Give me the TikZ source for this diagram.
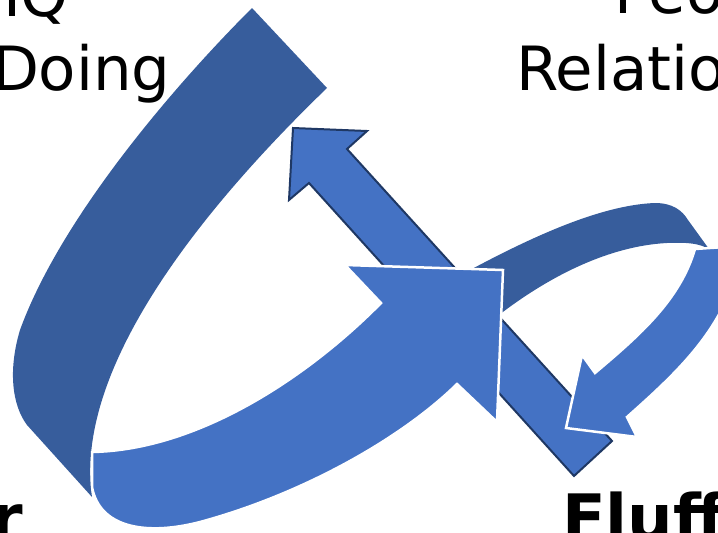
\documentclass[tikz,border=0pt]{standalone}
\usepackage{fontspec}
\setmainfont{DejaVu Sans}
\definecolor{bandDark}{RGB}{55,93,156}
\definecolor{bandLight}{RGB}{68,114,196}
\definecolor{navyEdge}{RGB}{31,56,100}
\tikzset{
  darkband/.style={fill=bandDark},
  lightarrow/.style={fill=bandLight, draw=white, line width=2.5pt, line join=miter},
  strarrow/.style={fill=bandLight, draw=navyEdge, line width=2pt, line join=miter},
  lbl/.style={inner sep=0pt, outer sep=0pt, anchor=base west, font=\fontsize{61}{61}\selectfont},
  blbl/.style={inner sep=0pt, outer sep=0pt, anchor=base west, font=\fontsize{64}{64}\selectfont\bfseries}
}
\begin{document}
\begin{tikzpicture}[x=1pt,y=-1pt]
\useasboundingbox (0,0) rectangle (718,533);
\clip (0,0) rectangle (718,533);
% big dark band
\fill[darkband] (252,8) .. controls (170,90) and (60,220) .. (20,330)
  .. controls (8,370) and (12,405) .. (27,425) -- (92,497)
  .. controls (75,380) and (180,230) .. (327,88) -- cycle;
% straight arrow
\draw[strarrow] (293,128) -- (367,131) -- (347,149) -- (612,441) -- (574,476)
  -- (309,183) -- (289,200) -- cycle;
% small loop, dark part
\fill[darkband] (470,270) .. controls (530,238) and (600,205) .. (655,203)
  .. controls (672,203) and (682,210) .. (688,220) -- (709,249)
  .. controls (700,244) and (690,242) .. (667,243)
  .. controls (610,246) and (550,275) .. (495,318) -- cycle;
% small loop, light arrow
\draw[lightarrow] (695,249) -- (740,246) -- (740,255)
  .. controls (728,325) and (680,370) .. (627,417) -- (637,437) -- (566,428)
  -- (582,355) -- (595,373) .. controls (640,335) and (680,300) .. (695,249) -- cycle;
% big light arrow
\draw[lightarrow] (92,452) .. controls (200,450) and (310,375) .. (381,303)
  -- (345,265) -- (503,270)
  -- (497,422) -- (457,384) .. controls (400,440) and (300,495) .. (200,522)
  .. controls (150,535) and (100,530) .. (92,487) -- cycle;
% texts
\node[lbl] (iq) at (3,16) {IQ};
\node[lbl] (doing) at (-8,90) {Doing};
\node[lbl] (peo) at (614,13) {Peo};
\node[lbl] (rel) at (516,90) {Relatio};
\node[blbl] (r) at (-9,540) {r};
\node[blbl] (fluff) at (562,540) {Fluff};
\end{tikzpicture}
\end{document}
